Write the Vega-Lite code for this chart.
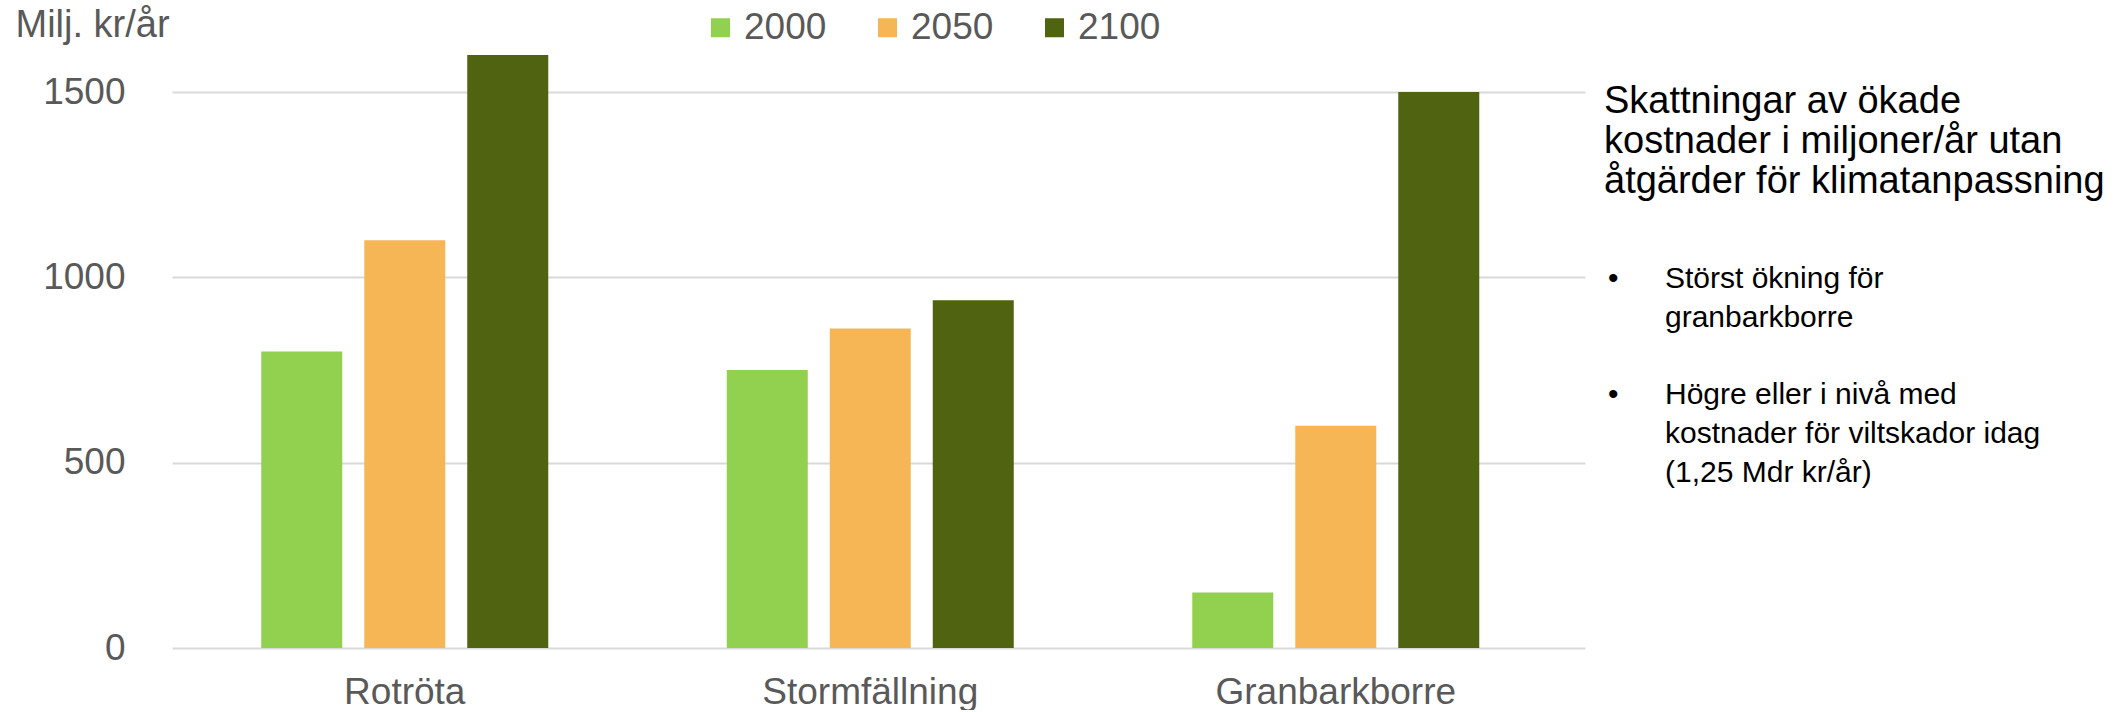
{
  "$schema": "https://vega.github.io/schema/vega-lite/v6.json",
  "padding": {"left": 15, "top": 6, "right": 0, "bottom": 0},
  "background": "white",
  "spacing": 19,
  "config": {"view": {"stroke": null}, "font": "Liberation Sans"},
  "hconcat": [
    {
      "width": 1413,
      "height": 593,
      "data": {"values": [
        {"risk": "Rotröta", "year": "2000", "value": 800},
        {"risk": "Rotröta", "year": "2050", "value": 1100},
        {"risk": "Rotröta", "year": "2100", "value": 1600},
        {"risk": "Stormfällning", "year": "2000", "value": 750},
        {"risk": "Stormfällning", "year": "2050", "value": 862},
        {"risk": "Stormfällning", "year": "2100", "value": 938},
        {"risk": "Granbarkborre", "year": "2000", "value": 150},
        {"risk": "Granbarkborre", "year": "2050", "value": 600},
        {"risk": "Granbarkborre", "year": "2100", "value": 1500}
      ]},
      "mark": {"type": "bar"},
      "encoding": {
        "x": {"field": "risk", "type": "nominal", "sort": ["Rotröta", "Stormfällning", "Granbarkborre"],
              "scale": {"paddingInner": 0, "paddingOuter": 0.0177, "align": 0},
              "axis": {"title": null, "labelAngle": 0, "labelFontSize": 37, "labelColor": "#595959", "labelLimit": 0, "domain": false, "ticks": false, "labelPadding": 26}},
        "xOffset": {"field": "year", "type": "nominal", "scale": {"paddingInner": 0.2136, "paddingOuter": 0.8666}},
        "y": {"field": "value", "type": "quantitative", "scale": {"domain": [0, 1600], "nice": false},
              "axis": {"values": [0, 500, 1000, 1500], "format": "d", "title": "Milj. kr/år", "titleAngle": 0, "titleAlign": "left", "titleBaseline": "middle",
                       "titleX": -157, "titleY": -30, "titleFontSize": 38, "titleFontWeight": "normal", "titleColor": "#595959", "titleLimit": 0,
                       "labelFontSize": 37, "labelColor": "#595959", "labelPadding": 47, "domain": false, "ticks": false,
                       "gridColor": "#d9d9d9", "gridWidth": 2}},
        "color": {"field": "year", "type": "nominal",
                  "scale": {"domain": ["2000", "2050", "2100"], "range": ["#92D050", "#F7B656", "#4F6310"]},
                  "legend": {"orient": "none", "legendX": 530, "legendY": -46, "direction": "horizontal", "title": null,
                             "symbolType": "square", "symbolSize": 361, "symbolStrokeWidth": 0, "labelFontSize": 37,
                             "labelColor": "#595959", "labelOffset": 5, "columnPadding": 42, "padding": 0}}
      }
    },
    {
      "width": 500,
      "height": 593,
      "data": {"values": [
        {"part": "heading", "line": "h1", "bullet": false, "text": "Skattningar av ökade"},
        {"part": "heading", "line": "h2", "bullet": false, "text": "kostnader i miljoner/år utan"},
        {"part": "heading", "line": "h3", "bullet": false, "text": "åtgärder för klimatanpassning"},
        {"part": "bullets", "line": "b1a", "bullet": true, "text": "Störst ökning för"},
        {"part": "bullets", "line": "b1b", "bullet": false, "text": "granbarkborre"},
        {"part": "bullets", "line": "b2a", "bullet": true, "text": "Högre eller i nivå med"},
        {"part": "bullets", "line": "b2b", "bullet": false, "text": "kostnader för viltskador idag"},
        {"part": "bullets", "line": "b2c", "bullet": false, "text": "(1,25 Mdr kr/år)"}
      ]},
      "layer": [
        {
          "transform": [{"filter": "datum.part === 'heading'"}],
          "mark": {"type": "text", "align": "left", "baseline": "alphabetic", "fontSize": 38, "color": "#000000"},
          "encoding": {
            "x": {"value": 0},
            "y": {"field": "line", "type": "nominal", "scale": {"type": "point", "domain": ["h1", "h2", "h3"], "range": [58, 138], "padding": 0}, "axis": null},
            "text": {"field": "text"}
          }
        },
        {
          "transform": [{"filter": "datum.part === 'bullets'"}],
          "mark": {"type": "text", "align": "left", "baseline": "alphabetic", "fontSize": 30, "color": "#000000", "dx": 61},
          "encoding": {
            "x": {"value": 0},
            "y": {"field": "line", "type": "nominal", "scale": {"type": "point", "domain": ["b1a", "b1b", "gap", "b2a", "b2b", "b2c"], "range": [233, 427], "padding": 0}, "axis": null},
            "text": {"field": "text"}
          }
        },
        {
          "transform": [{"filter": "datum.bullet"}],
          "mark": {"type": "text", "align": "left", "baseline": "alphabetic", "fontSize": 30, "color": "#000000", "dx": 4},
          "encoding": {
            "x": {"value": 0},
            "y": {"field": "line", "type": "nominal", "scale": {"type": "point", "domain": ["b1a", "b1b", "gap", "b2a", "b2b", "b2c"], "range": [233, 427], "padding": 0}, "axis": null},
            "text": {"value": "•"}
          }
        }
      ],
      "resolve": {"scale": {"y": "independent"}}
    }
  ]
}
